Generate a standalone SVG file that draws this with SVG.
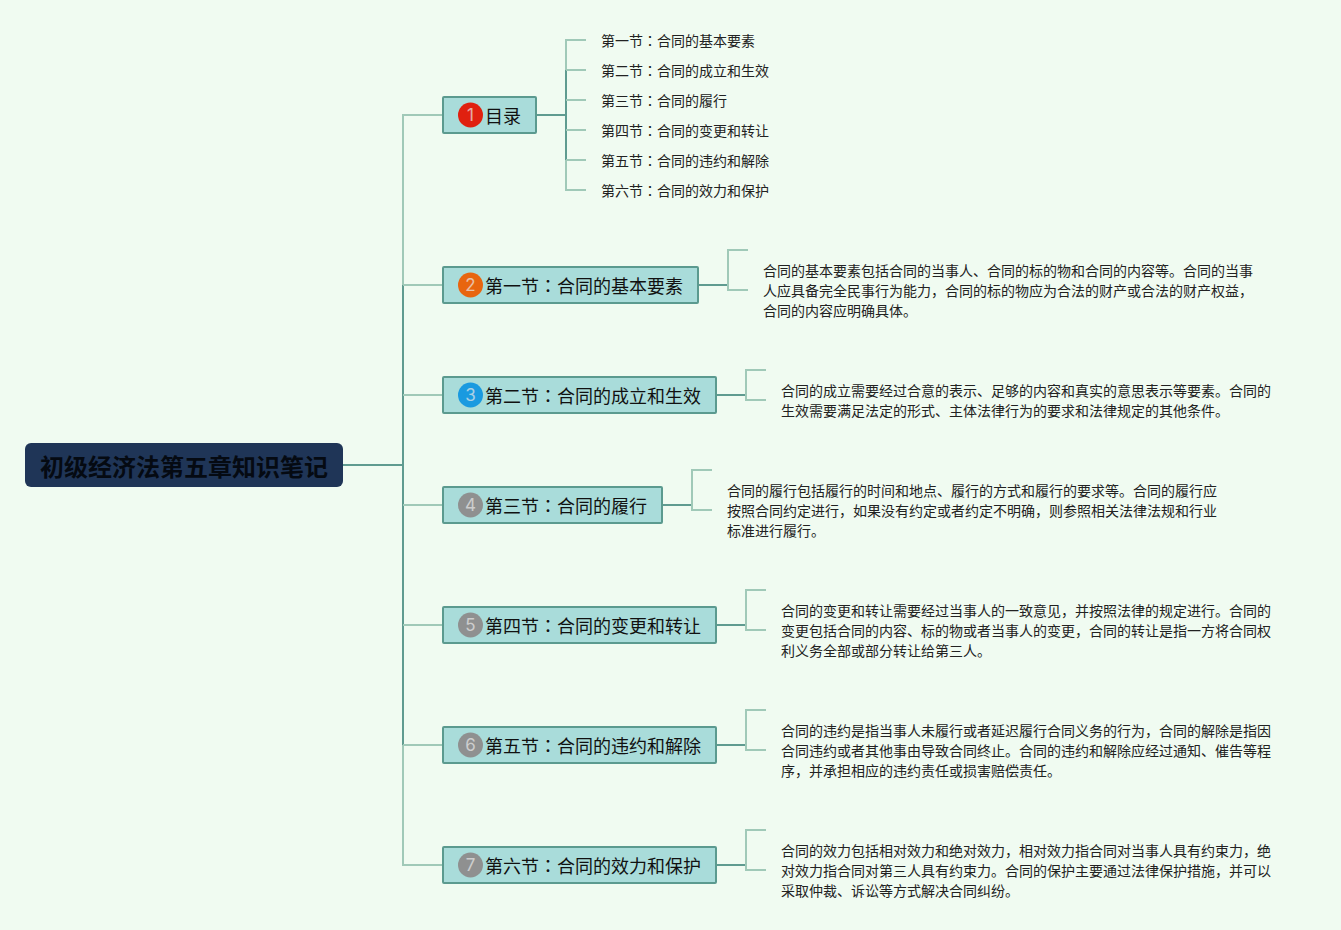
<svg xmlns="http://www.w3.org/2000/svg" width="1341" height="930" viewBox="0 0 1341 930">
<style>
text{font-family:"Noto Sans CJK SC","Liberation Sans",sans-serif;fill:#111}
.c{font-family:"Noto Sans CJK TC","Liberation Sans",sans-serif}
.b{fill:#a9dcda;stroke:#5b9a8f;stroke-width:2}
.t{font-size:18px}
.l{font-size:14px;fill:#222}
.n{font-family:"Inter","Liberation Sans",sans-serif;font-size:17px;fill:#e8e8e8;text-anchor:middle;opacity:.7}
.d{fill:none;stroke:#5f9b90;stroke-width:2}
.f{fill:none;stroke:#a0c9b8;stroke-width:2}
</style>
<rect width="1341" height="930" fill="#f0fbf1"/>
<g id="connectors">
<path class="d" d="M343 465H403M403 285V745"/>
<path class="f" d="M443 115H403V285M403 285H443M403 395H443M403 505H443M403 625H443M403 745H443M403 745V865H443"/>
<path class="d" d="M536 115H566M566 70V160"/>
<path class="f" d="M586 40H566V70M566 70H586M566 100H586M566 130H586M566 160H586M566 160V190H586"/>
<path class="d" d="M698 285H728"/><path class="f" d="M748 250H728V290H748"/>
<path class="d" d="M716 395H746"/><path class="f" d="M766 370H746V400H766"/>
<path class="d" d="M662 505H692"/><path class="f" d="M712 470H692V510H712"/>
<path class="d" d="M716 625H746"/><path class="f" d="M766 590H746V630H766"/>
<path class="d" d="M716 745H746"/><path class="f" d="M766 710H746V750H766"/>
<path class="d" d="M716 865H746"/><path class="f" d="M766 830H746V870H766"/>
</g>
<g id="root"><rect x="25" y="443" width="318" height="44" rx="6" fill="#1f3557"/>
<text x="40" y="476" font-size="24" font-weight="700" style="fill:#050a12">初级经济法第五章知识笔记</text></g>
<g id="node1"><rect class="b" x="443" y="97" width="93" height="36" rx="1"/><circle cx="470.500" cy="115" r="12.500" fill="#e0200f"/><text class="n" x="470.500" y="121">1</text><text class="t" x="485" y="123">目录</text></g>
<g id="node2"><rect class="b" x="443" y="267" width="255" height="36" rx="1"/><circle cx="470.500" cy="285" r="12.500" fill="#e8650f"/><text class="n" x="470.500" y="291">2</text><text class="t" x="485" y="293">第一节<tspan class="c">：</tspan>合同的基本要素</text></g>
<g id="node3"><rect class="b" x="443" y="377" width="273" height="36" rx="1"/><circle cx="470.500" cy="395" r="12.500" fill="#1a9ae0"/><text class="n" x="470.500" y="401">3</text><text class="t" x="485" y="403">第二节<tspan class="c">：</tspan>合同的成立和生效</text></g>
<g id="node4"><rect class="b" x="443" y="487" width="219" height="36" rx="1"/><circle cx="470.500" cy="505" r="12.500" fill="#8f9090"/><text class="n" x="470.500" y="511">4</text><text class="t" x="485" y="513">第三节<tspan class="c">：</tspan>合同的履行</text></g>
<g id="node5"><rect class="b" x="443" y="607" width="273" height="36" rx="1"/><circle cx="470.500" cy="625" r="12.500" fill="#8f9090"/><text class="n" x="470.500" y="631">5</text><text class="t" x="485" y="633">第四节<tspan class="c">：</tspan>合同的变更和转让</text></g>
<g id="node6"><rect class="b" x="443" y="727" width="273" height="36" rx="1"/><circle cx="470.500" cy="745" r="12.500" fill="#8f9090"/><text class="n" x="470.500" y="751">6</text><text class="t" x="485" y="753">第五节<tspan class="c">：</tspan>合同的违约和解除</text></g>
<g id="node7"><rect class="b" x="443" y="847" width="273" height="36" rx="1"/><circle cx="470.500" cy="865" r="12.500" fill="#8f9090"/><text class="n" x="470.500" y="871">7</text><text class="t" x="485" y="873">第六节<tspan class="c">：</tspan>合同的效力和保护</text></g>
<g id="toc">
<text class="l" x="601" y="46">第一节<tspan class="c">：</tspan>合同的基本要素</text>
<text class="l" x="601" y="76">第二节<tspan class="c">：</tspan>合同的成立和生效</text>
<text class="l" x="601" y="106">第三节<tspan class="c">：</tspan>合同的履行</text>
<text class="l" x="601" y="136">第四节<tspan class="c">：</tspan>合同的变更和转让</text>
<text class="l" x="601" y="166">第五节<tspan class="c">：</tspan>合同的违约和解除</text>
<text class="l" x="601" y="196">第六节<tspan class="c">：</tspan>合同的效力和保护</text>
</g>
<g id="detail2"><text class="l" x="763" y="276">合同的基本要素包括合同的当事人、合同的标的物和合同的内容等。合同的当事</text><text class="l" x="763" y="296">人应具备完全民事行为能力，合同的标的物应为合法的财产或合法的财产权益，</text><text class="l" x="763" y="316">合同的内容应明确具体。</text></g>
<g id="detail3"><text class="l" x="781" y="396">合同的成立需要经过合意的表示、足够的内容和真实的意思表示等要素。合同的</text><text class="l" x="781" y="416">生效需要满足法定的形式、主体法律行为的要求和法律规定的其他条件。</text></g>
<g id="detail4"><text class="l" x="727" y="496">合同的履行包括履行的时间和地点、履行的方式和履行的要求等。合同的履行应</text><text class="l" x="727" y="516">按照合同约定进行，如果没有约定或者约定不明确，则参照相关法律法规和行业</text><text class="l" x="727" y="536">标准进行履行。</text></g>
<g id="detail5"><text class="l" x="781" y="616">合同的变更和转让需要经过当事人的一致意见，并按照法律的规定进行。合同的</text><text class="l" x="781" y="636">变更包括合同的内容、标的物或者当事人的变更，合同的转让是指一方将合同权</text><text class="l" x="781" y="656">利义务全部或部分转让给第三人。</text></g>
<g id="detail6"><text class="l" x="781" y="736">合同的违约是指当事人未履行或者延迟履行合同义务的行为，合同的解除是指因</text><text class="l" x="781" y="756">合同违约或者其他事由导致合同终止。合同的违约和解除应经过通知、催告等程</text><text class="l" x="781" y="776">序，并承担相应的违约责任或损害赔偿责任。</text></g>
<g id="detail7"><text class="l" x="781" y="856">合同的效力包括相对效力和绝对效力，相对效力指合同对当事人具有约束力，绝</text><text class="l" x="781" y="876">对效力指合同对第三人具有约束力。合同的保护主要通过法律保护措施，并可以</text><text class="l" x="781" y="896">采取仲裁、诉讼等方式解决合同纠纷。</text></g>
</svg>
